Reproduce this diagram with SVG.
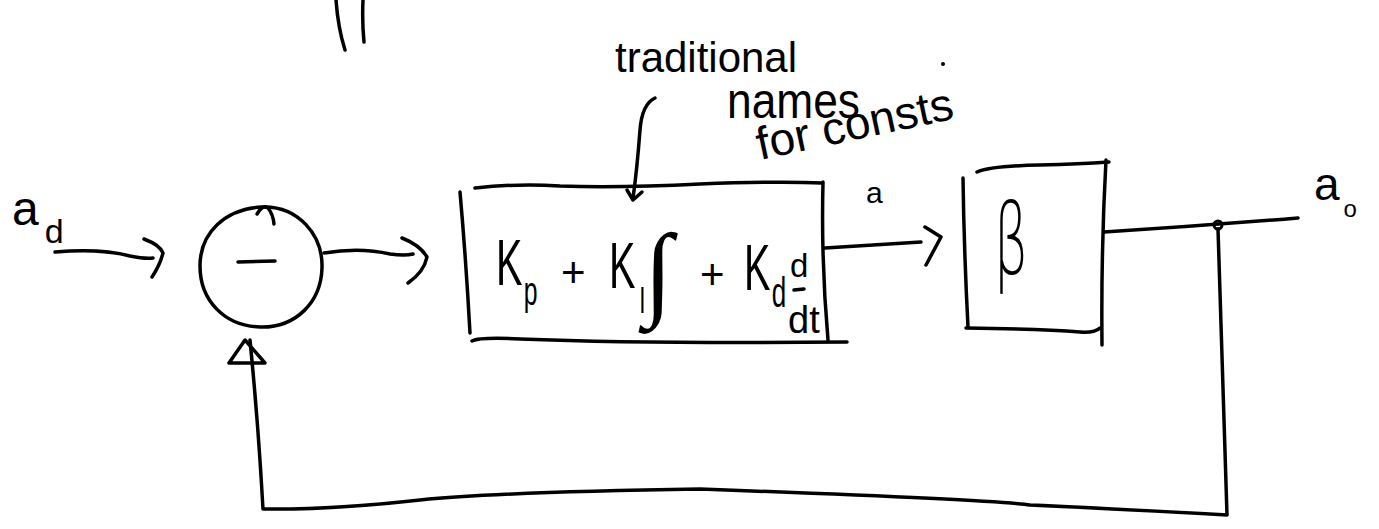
<svg xmlns="http://www.w3.org/2000/svg" width="1379" height="529" viewBox="0 0 1379 529">
<style>
.ln{fill:none;stroke:#000;stroke-width:3.5;stroke-linecap:round;stroke-linejoin:round}
.tx{font-family:"Liberation Sans","DejaVu Sans",sans-serif;fill:#000}
.sym{font-family:"DejaVu Sans","Liberation Sans",sans-serif;fill:#000}
.ser{font-family:"Liberation Serif","DejaVu Serif",serif;fill:#000}
</style>
<rect width="1379" height="529" fill="#fff"/>
<g id="top-marks">
<path class="ln" d="M336,0 Q338,28 345,50"/>
<path class="ln" d="M363,0 Q362,22 364,42"/>
<circle cx="943" cy="64" r="2" fill="#000"/>
</g>
<g id="annotation">
<text class="tx" x="615" y="72" font-size="42" textLength="182" lengthAdjust="spacingAndGlyphs">traditional</text>
<text class="tx" x="727" y="118" font-size="50" textLength="133" lengthAdjust="spacingAndGlyphs">names</text>
<text class="tx" x="760" y="160" font-size="46" transform="rotate(-12 760 160)" textLength="200" lengthAdjust="spacingAndGlyphs">for consts</text>
</g>
<g id="input-label">
<text class="tx" font-size="48" x="12" y="225">a<tspan font-size="34" dx="6" dy="18">d</tspan></text>
</g>
<g id="sum">
<path class="ln" d="M261,207 C298,205 323,235 322,268 C321,302 296,328 260,327 C224,326 200,300 200,266 C200,232 226,209 261,207 Z"/>
<path class="ln" d="M257,214 Q263,204 268,208 Q273,214 274,224"/>
<path class="ln" d="M238,262 L275,261"/>
</g>
<g id="pid">
<path class="ln" d="M460,192 Q466,260 470,333"/>
<path class="ln" d="M475,188 Q520,183 560,186 Q620,188 700,184 Q780,181 822,183"/>
<path class="ln" d="M823,182 Q821,260 828,340"/>
<path class="ln" d="M472,341 Q480,337 520,339 Q650,344 847,342"/>
<text class="tx" font-size="64" transform="translate(496,285) scale(0.62,1)">K<tspan font-size="40" dx="2" dy="20">p</tspan></text>
<text class="tx" x="561" y="287" font-size="42">+</text>
<text class="tx" font-size="64" transform="translate(609,288) scale(0.62,1)">K<tspan font-size="36" dx="6" dy="25">I</tspan></text>
<text class="ser" x="644" y="306" font-size="104">∫</text>
<text class="tx" x="700" y="289" font-size="42">+</text>
<text class="tx" font-size="64" transform="translate(744,290) scale(0.62,1)">K<tspan font-size="42" dx="2" dy="17">d</tspan></text>
<text class="tx" x="790" y="277" font-size="33">d</text>
<path class="ln" d="M794,290 L804,289"/>
<text class="tx" x="788" y="333" font-size="38">dt</text>
</g>
<g id="plant">
<path class="ln" d="M963,178 Q964,250 968,327"/>
<path class="ln" d="M977,172 Q990,166 1040,165 Q1080,164 1109,162"/>
<path class="ln" d="M1106,160 Q1101,250 1102,345"/>
<path class="ln" d="M966,328 Q1040,329 1080,332 Q1095,333 1100,328"/>
<text class="sym" font-size="98" font-weight="200" transform="translate(994,274) scale(0.55,1)">β</text>
</g>
<g id="output-label">
<text class="tx" font-size="46" x="1314" y="200">a<tspan font-size="24" dx="4" dy="17">o</tspan></text>
</g>
<g id="connectors">
<path class="ln" d="M55,252 Q100,248 130,256 Q145,259 153,258"/>
<path class="ln" d="M144,239 Q160,245 163,253 Q160,265 152,277"/>
<path class="ln" d="M324,253 Q360,247 390,254 Q405,256 413,254"/>
<path class="ln" d="M402,238 Q420,245 427,257 Q424,272 408,283"/>
<path class="ln" d="M825,248 Q870,245 921,242"/>
<path class="ln" d="M925,227 L941,237 L926,265"/>
<text class="tx" x="866" y="203" font-size="30">a</text>
<path class="ln" d="M1104,232 Q1200,226 1298,218"/>
<circle cx="1218" cy="225" r="4" fill="none" stroke="#000" stroke-width="3"/>
<path class="ln" d="M1218,229 Q1222,370 1227,515 Q1100,508 1030,505 Q1000,500 700,489 Q500,492 420,500 Q330,510 263,509 Q258,420 250,340"/>
<path class="ln" d="M245,340 L229,363 L265,363 Z"/>
<path class="ln" d="M655,98 Q642,104 640,130 Q637,170 633,198"/>
<path class="ln" d="M627,190 L633,200 L642,192"/>
</g>
</svg>
